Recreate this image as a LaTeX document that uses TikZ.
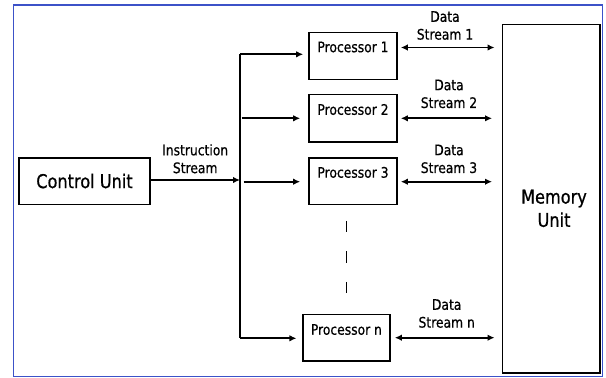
\documentclass[tikz,border=0pt]{standalone}
\usepackage{fontspec}
\setmainfont{DejaVu Sans}[FakeStretch=0.85,FakeBold=0.6]
\usetikzlibrary{arrows.meta,calc}
\definecolor{frameblue}{RGB}{60,82,200}
\begin{document}
\begin{tikzpicture}[x=1pt,y=-1pt,
  box/.style={draw,line width=1.6pt,rectangle,inner sep=0pt},
  small/.style={font=\fontsize{14.5}{17.8}\selectfont,align=center,inner sep=0pt},
  big/.style={font=\fontsize{19}{23.3}\selectfont,align=center,inner sep=0pt},
  arr/.style={line width=1.8pt,-{Latex[length=7pt,width=6.5pt]}},
  darr/.style={line width=1.8pt,{Latex[length=7pt,width=6.5pt]}-{Latex[length=7pt,width=6.5pt]}},
  bus/.style={line width=1.6pt}]
\useasboundingbox (0,0) rectangle (606,378);
\fill[white] (0,0) rectangle (606,378);
\draw[frameblue,line width=1.6pt] (13.5,5) rectangle (602.5,376.5);

\node[box,minimum width=130.5pt,minimum height=46.6pt] (cu) at (84.5,181) {};
\node[big] (cut) at (cu.center) {Control Unit};

\node[box,minimum width=88pt,minimum height=47pt] (p1) at (353,55.8) {};
\node[box,minimum width=88pt,minimum height=47.4pt] (p2) at (353,118) {};
\node[box,minimum width=88pt,minimum height=46.6pt] (p3) at (353,181) {};
\node[box,minimum width=87.3pt,minimum height=46.7pt] (pn) at (346.4,337.7) {};
\node[box,minimum width=97.7pt,minimum height=348.4pt] (mem) at (551.2,198.5) {};

\node[small] (p1t) at ($(p1.north)+(0,15.5)$) {Processor 1};
\node[small] (p2t) at ($(p2.north)+(0,16)$) {Processor 2};
\node[small] (p3t) at ($(p3.north)+(0,15.5)$) {Processor 3};
\node[small] (pnt) at ($(pn.north)+(0,16)$) {Processor n};
\node[big] (memt) at (554,208.4) {Memory\\Unit};

\node[small] (ist) at (195.2,158.8) {Instruction\\Stream};
\node[small] (ds1) at (445,25.5) {Data\\Stream 1};
\node[small] (ds2) at (449,93.9) {Data\\Stream 2};
\node[small] (ds3) at (449,158.9) {Data\\Stream 3};
\node[small] (dsn) at (446.7,313.5) {Data\\Stream n};

\coordinate (bt) at (240,54.3);
\coordinate (bb) at (240,338.3);
\coordinate (bm) at (240,180);
\draw[bus] (bt) -- (bb);
\draw[arr] (cu.east |- bm) -- (bm);
\draw[arr] (bt) -- ($(p1.west |- bt)+(-5,0)$);
\draw[arr] (241.6,118.3) -- ($(p2.west)+(-8,0.3)$);
\draw[arr] (243.5,181.7) -- ($(p3.west)+(-8,0.7)$);
\draw[arr] (bb) -- ($(pn.west |- bb)+(-5.5,0)$);

\draw[darr] ($(p1.north east)+(3,16)$) -- ($(mem.west |- p1.north east)+(-7,16)$);
\draw[darr] ($(p2.east)+(3,0.3)$) -- ($(mem.west |- p2.east)+(-9.5,0.3)$);
\draw[darr] ($(p3.east)+(3,0.7)$) -- ($(mem.west |- p3.east)+(-9.5,0.7)$);
\draw[darr] ($(pn.east)+(4,0)$) -- ($(mem.west |- pn.east)+(-7,0)$);

\draw[line width=1.4pt,dash pattern=on 11.3pt off 19.2pt] ($(pn.north)+(0,-92.6)$) -- ($(pn.north)+(0,-20.5)$);
\end{tikzpicture}
\end{document}
